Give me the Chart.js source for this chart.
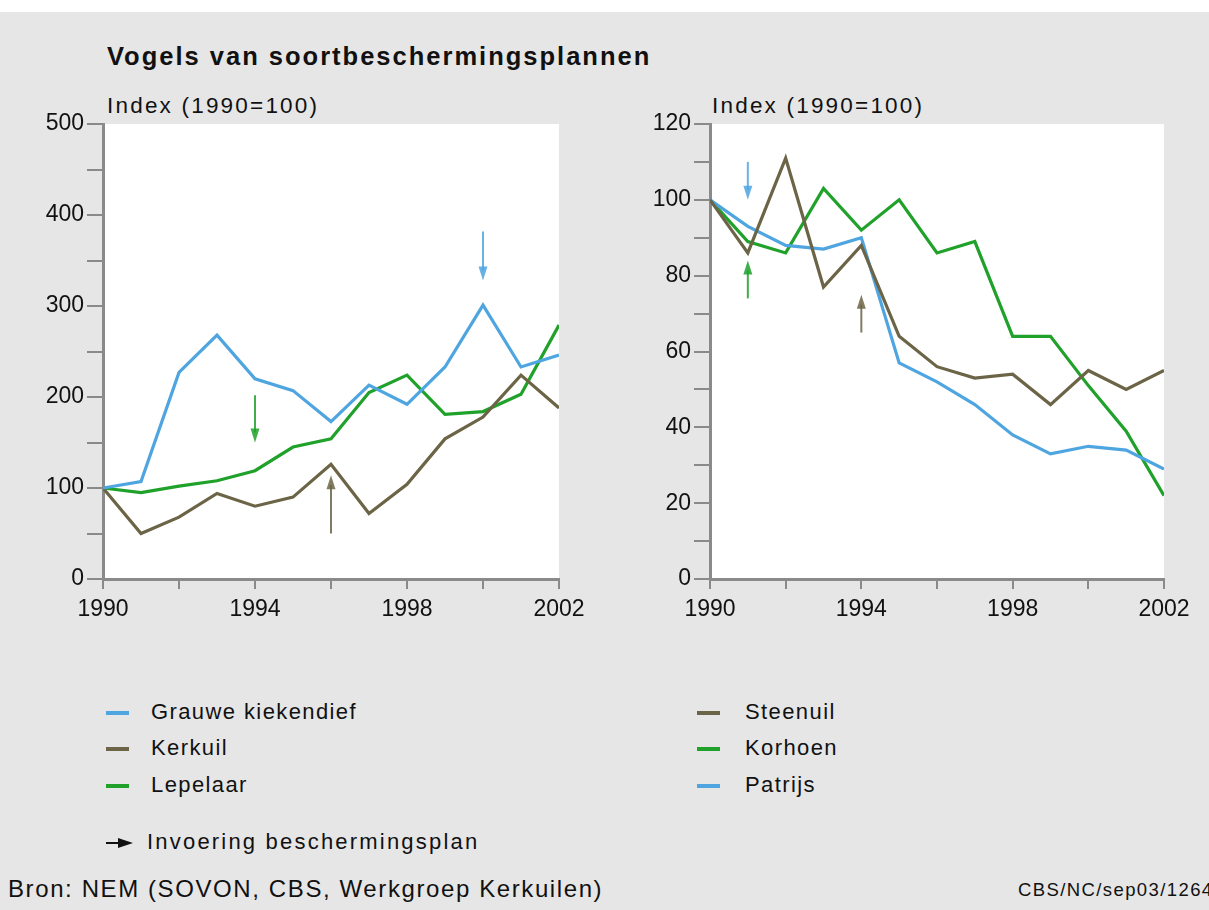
<!DOCTYPE html>
<html>
<head>
<meta charset="utf-8">
<script src="https://cdn.jsdelivr.net/npm/chart.js@4"></script>
<style>
  body { margin: 0; width: 1209px; height: 910px; background: #fff; font-family: "Liberation Sans", Arial, sans-serif; overflow: hidden; }
  #page { position: absolute; left: 0; top: 12px; width: 1209px; height: 898px; background: #e6e6e6; }
  .txt { position: absolute; color: #111; white-space: nowrap; }
  .sw { position: absolute; width: 23px; height: 4px; }
  canvas { position: absolute; }
</style>
</head>
<body>
<div id="page"></div>
<div class="txt" style="left:107px; top:42px; font-size:25.5px; letter-spacing:2px; font-weight:bold;">Vogels van soortbeschermingsplannen</div>
<div class="txt" style="left:107px; top:93px; font-size:22.5px; letter-spacing:2.2px;">Index (1990=100)</div>
<div class="txt" style="left:712px; top:93px; font-size:22.5px; letter-spacing:2.2px;">Index (1990=100)</div>

<canvas id="links" width="600" height="560" style="left:0; top:90px;"></canvas>
<canvas id="rechts" width="609" height="560" style="left:600px; top:90px;"></canvas>

<div id="legend"></div>
<div class="txt" style="left:8px; top:875px; font-size:24px; letter-spacing:1.6px;">Bron: NEM (SOVON, CBS, Werkgroep Kerkuilen)</div>
<div class="txt" style="left:1018px; top:879px; font-size:18.5px; letter-spacing:1.4px;">CBS/NC/sep03/1264</div>

<script>
// jaren op de x-as
const jaren = [1990, 1991, 1992, 1993, 1994, 1995, 1996, 1997, 1998, 1999, 2000, 2001, 2002];

// linker grafiek
const grauweKiekendief = [100, 107, 227, 268, 220, 207, 173, 213, 192, 233, 301, 233, 246];
const kerkuil          = [100, 50, 68, 94, 80, 90, 126, 72, 104, 154, 178, 224, 188];
const lepelaar         = [100, 95, 102, 108, 119, 145, 154, 205, 224, 181, 184, 203, 279];

// rechter grafiek
const steenuil = [100, 86, 111, 77, 88, 64, 56, 53, 54, 46, 55, 50, 55];
const korhoen  = [100, 89, 86, 103, 92, 100, 86, 89, 64, 64, 51, 39, 22];
const patrijs  = [100, 93, 88, 87, 90, 57, 52, 46, 38, 33, 35, 34, 29];

// invoering beschermingsplan: [soort, jaar, van, tot]
const pijlenLinks  = [['grauwe', 2000, 382, 328], ['lepelaar', 1994, 202, 150], ['kerkuil', 1996, 50, 114]];
const pijlenRechts = [['patrijs', 1991, 110, 100], ['korhoen', 1991, 74, 84], ['steenuil', 1994, 65, 75]];

const kleur = {
  grauwe: '#4ea5e0', patrijs: '#4ea5e0',
  kerkuil: '#6b6446', steenuil: '#6b6446',
  lepelaar: '#1fa12a', korhoen: '#1fa12a'
};

function punten(vals) {
  return vals.map((v, i) => ({ x: jaren[i], y: v }));
}

function lijn(label, vals, c) {
  return { label: label, data: punten(vals), borderColor: c, borderWidth: 3.2, pointRadius: 0, tension: 0, fill: false };
}

const witVlak = {
  id: 'witVlak',
  beforeDraw(chart) {
    const a = chart.chartArea, ctx = chart.ctx;
    ctx.save();
    ctx.fillStyle = '#ffffff';
    ctx.fillRect(a.left, a.top, a.right - a.left, a.bottom - a.top);
    ctx.restore();
  }
};

const pijlen = {
  id: 'pijlen',
  afterDatasetsDraw(chart, args, opts) {
    const ctx = chart.ctx, xs = chart.scales.x, ys = chart.scales.y;
    ctx.save();
    (opts.lijst || []).forEach(p => {
      const x = xs.getPixelForValue(p[1]);
      const y0 = ys.getPixelForValue(p[2]);
      const y1 = ys.getPixelForValue(p[3]);
      const dir = y1 > y0 ? 1 : -1;
      ctx.strokeStyle = kleur[p[0]];
      ctx.fillStyle = kleur[p[0]];
      ctx.globalAlpha = 0.85;
      ctx.lineWidth = 2;
      ctx.beginPath();
      ctx.moveTo(x, y0);
      ctx.lineTo(x, y1 - dir * 10);
      ctx.stroke();
      ctx.beginPath();
      ctx.moveTo(x - 4.5, y1 - dir * 14);
      ctx.lineTo(x + 4.5, y1 - dir * 14);
      ctx.lineTo(x, y1);
      ctx.closePath();
      ctx.fill();
    });
    ctx.restore();
  }
};

function maakGrafiek(id, sets, yMax, yStap, yLabelStap, asBreedte, rechtsPad, lijst) {
  const ctx = document.getElementById(id).getContext('2d');
  ctx.letterSpacing = '1.5px';
  new Chart(ctx, {
    type: 'line',
    data: { datasets: sets },
    options: {
      responsive: false,
      animation: false,
      layout: { padding: { top: 34, right: rechtsPad, left: 0, bottom: 0 } },
      plugins: { legend: { display: false }, tooltip: { enabled: false }, pijlen: { lijst: lijst } },
      scales: {
        x: {
          type: 'linear', min: 1990, max: 2002,
          afterFit(s) { s.height = 71; },
          border: { color: '#8a8a8a', width: 3 },
          grid: { drawOnChartArea: false, drawTicks: true, tickLength: 10, color: '#8a8a8a', lineWidth: 2 },
          ticks: {
            stepSize: 2, autoSkip: false, maxRotation: 0, padding: 7, color: '#111',
            font: { family: 'Liberation Sans', size: 23 },
            callback: v => ((v - 1990) % 4 === 0 ? String(v) : '')
          }
        },
        y: {
          min: 0, max: yMax,
          afterFit(s) { s.width = asBreedte; },
          border: { color: '#8a8a8a', width: 3 },
          grid: { drawOnChartArea: false, drawTicks: true, tickLength: 16, color: '#8a8a8a', lineWidth: 2 },
          ticks: {
            stepSize: yStap, autoSkip: false, padding: 3, color: '#111',
            font: { family: 'Liberation Sans', size: 23 },
            callback: v => (v % yLabelStap === 0 ? String(v) : '')
          }
        }
      }
    },
    plugins: [witVlak, pijlen]
  });
}

maakGrafiek('links', [
  lijn('Grauwe kiekendief', grauweKiekendief, kleur.grauwe),
  lijn('Kerkuil', kerkuil, kleur.kerkuil),
  lijn('Lepelaar', lepelaar, kleur.lepelaar)
], 500, 50, 100, 103, 41, pijlenLinks);

maakGrafiek('rechts', [
  lijn('Steenuil', steenuil, kleur.steenuil),
  lijn('Patrijs', patrijs, kleur.patrijs),
  lijn('Korhoen', korhoen, kleur.korhoen)
], 120, 10, 20, 110, 45, pijlenRechts);

// legenda
const legendaLinks  = [['Grauwe kiekendief', kleur.grauwe], ['Kerkuil', kleur.kerkuil], ['Lepelaar', kleur.lepelaar]];
const legendaRechts = [['Steenuil', kleur.steenuil], ['Korhoen', kleur.korhoen], ['Patrijs', kleur.patrijs]];
const rijen = [713, 749, 786];
const leg = document.getElementById('legend');
function legKolom(items, swX, txtX) {
  items.forEach((it, i) => {
    leg.insertAdjacentHTML('beforeend',
      '<div class="sw" style="left:' + swX + 'px; top:' + (rijen[i] - 2) + 'px; background:' + it[1] + ';"></div>' +
      '<div class="txt" style="left:' + txtX + 'px; top:' + (rijen[i] - 14) + 'px; font-size:22px; letter-spacing:1.4px;">' + it[0] + '</div>');
  });
}
legKolom(legendaLinks, 106, 151);
legKolom(legendaRechts, 697, 745);
leg.insertAdjacentHTML('beforeend',
  '<svg style="position:absolute; left:104px; top:837px;" width="30" height="12"><line x1="2" y1="6" x2="18" y2="6" stroke="#111" stroke-width="2"/><polygon points="14,1 29,6 14,11" fill="#111"/></svg>' +
  '<div class="txt" style="left:147px; top:829px; font-size:22px; letter-spacing:2.2px;">Invoering beschermingsplan</div>');
</script>
</body>
</html>
